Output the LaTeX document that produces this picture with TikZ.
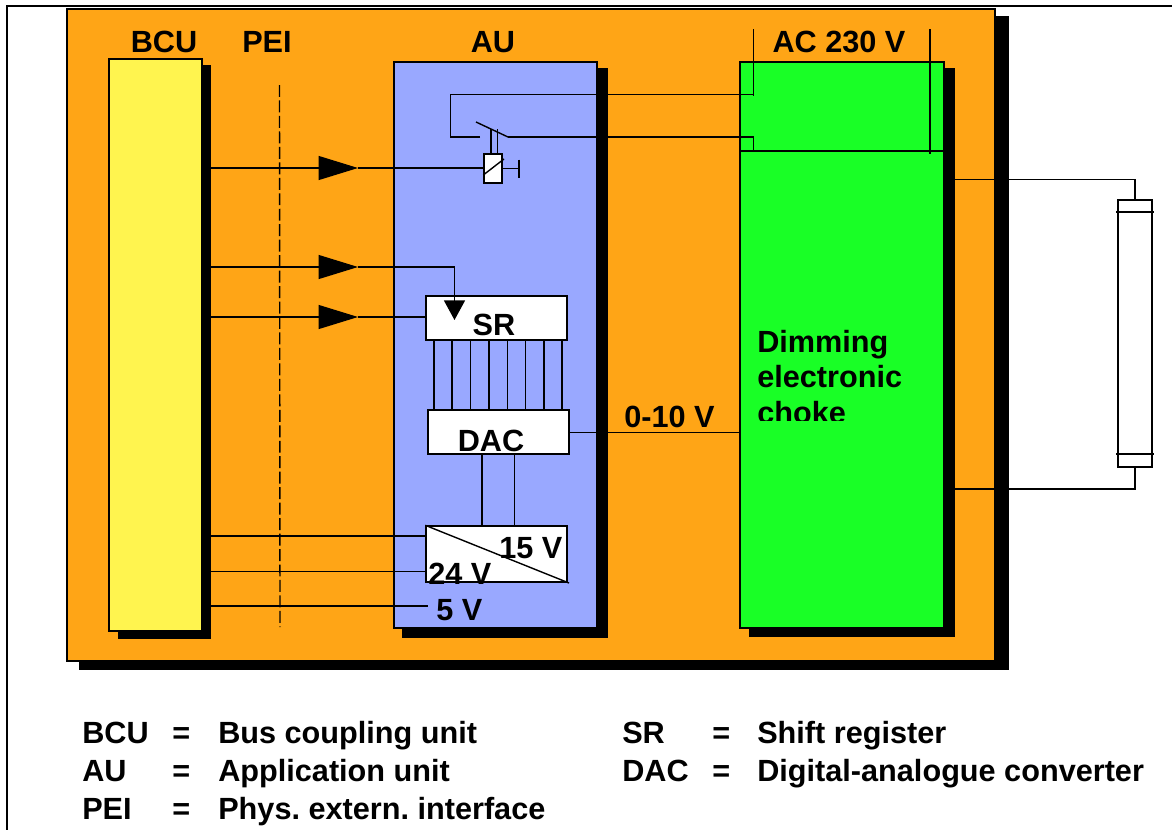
\documentclass[tikz,border=0pt]{standalone}
\usepackage{fontspec}
\setmainfont{Liberation Sans}
\usepackage{tikz}
\usetikzlibrary{arrows.meta,positioning,calc,fit}
\definecolor{baseorange}{HTML}{FFA516}
\definecolor{bcuyellow}{HTML}{FFF44F}
\definecolor{aublue}{HTML}{99A8FF}
\definecolor{chokegreen}{HTML}{19FF26}
\frenchspacing

\begin{document}
\begin{tikzpicture}[
    x=0.025cm, y=-0.025cm,
    panel/.style={rectangle, draw=black, line width=1pt, inner sep=0pt},
    whitebox/.style={panel, fill=white},
    wire/.style={draw=black, line width=1pt},
    cast/.style={fill=black},
    lbl/.style={font=\fontsize{21.8}{26}\selectfont\bfseries, inner sep=0pt},
    bigtip/.style={wire, -{Triangle[length=28pt,width=17pt]}},
    downtip/.style={wire, -{Triangle[length=14pt,width=15pt]}},
  ]
  \useasboundingbox (0,0) rectangle (1172,830);

  %% Page frame
  \coordinate (frametop) at (1172,6);
  \coordinate (framecorner) at (7,6);
  \coordinate (framefoot) at (7,830);
  \draw[line width=1.8pt] (frametop) -- (framecorner) -- (framefoot);

  %% Base plate
  \fill[cast] (79,16) rectangle (1009,670);
  \node[panel, fill=baseorange, fit={(67,9) (995,661)}] (base) {};

  %% Units
  \fill[cast] (118,65) rectangle (211,639);
  \node[panel, fill=bcuyellow, fit={(109,59) (202,631)}] (bcu) {};
  \fill[cast] (402,68) rectangle (608,638);
  \node[panel, fill=aublue, fit={(394,62) (597,628)}] (au) {};
  \fill[cast] (749,68) rectangle (955,637);
  \node[panel, fill=chokegreen, fit={(740,62) (944,628)}] (choke) {};

  %% Unit labels
  \node[lbl, anchor=base] (bculabel) at (164,52) {BCU};
  \node[lbl, anchor=base] (peilabel) at (267,52) {PEI};
  \node[lbl, anchor=base] (aulabel) at (493,52) {AU};
  \node[lbl, anchor=base] (aclabel) at (839,52) {AC 230 V};

  %% Interface line
  \coordinate (peitop) at (279.5,85);
  \coordinate (peifoot) at (280,627);
  \draw[line width=1pt, dash pattern=on 8.5pt off 2.5pt] (peitop) -- (peifoot);

  %% Inner boxes
  \node[whitebox, fit={(426,296) (567,340)}] (sr) {};
  \node[whitebox, fit={(428,410) (569,454)}] (dac) {};
  \node[whitebox, fit={(426,526) (567,582)}] (conv) {};
  \node[whitebox, fit={(484,154) (502,183)}] (coil) {};

  %% Relay
  \draw[wire] (coil.south west |- 0,175) -- (504,159);
  \coordinate (stopbar) at (519,168.5);
  \draw[wire] (coil.east |- stopbar) -- (stopbar);
  \draw[wire] ($(stopbar)+(0,-9)$) -- ($(stopbar)+(0,9)$);
  \foreach \stem in {491,497.5}{
    \draw[wire] (coil.north -| \stem,0) -- (\stem,129);
  }
  \coordinate (bladeend) at (476,122);
  \coordinate (bladepin) at (508,137);
  \draw[wire] (bladeend) -- (bladepin);
  \coordinate (contact) at (480,137);

  %% Mains feed
  \coordinate (acleft) at (753.5,29);
  \coordinate (acright) at (930,29);
  \coordinate (acbar) at (739,151);
  \draw[wire] (acleft) -- (753.5,96);
  \draw[wire] (acright) -- (930,154);
  \draw[wire] (acbar) -- (acbar -| choke.east);
  \draw[wire] (contact) -- (450.5,137) -- (450.5,94.5) -- (753.5,94.5);
  \draw[wire] (bladepin) -- (753.5,137) -- (753.5,151);

  %% Signals from the BCU
  \coordinate (tipa) at (358,168);
  \coordinate (tipb) at (358,267);
  \coordinate (tipc) at (358,317);
  \draw[bigtip] (bcu.east |- tipa) ++(8,0) -- (tipa);
  \draw[wire] (tipa) -- (coil.west |- tipa);
  \draw[bigtip] (bcu.east |- tipb) ++(8,0) -- (tipb);
  \coordinate (srdrop) at (454.5,320);
  \draw[downtip] (tipb) -| (srdrop);
  \draw[bigtip] (bcu.east |- tipc) ++(8,0) -- (tipc);
  \draw[wire] (tipc) -- (sr.west |- tipc);

  %% Supply lines
  \coordinate (supplya) at (211,536);
  \coordinate (supplyb) at (211,571.5);
  \coordinate (supplyc) at (211,606);
  \coordinate (fivev) at (428,606);
  \draw[wire] (supplya) -- (conv.west |- supplya);
  \draw[wire] (supplyb) -- (conv.west |- supplyb);
  \draw[wire] (supplyc) -- (fivev);

  %% Register to converter
  \foreach \bit in {434,452,470.5,489,507.5,525.5,544,562}{
    \draw[wire] (sr.south -| \bit,0) -- (dac.north -| \bit,0);
  }
  \foreach \rail in {482,514.5}{
    \draw[wire] (dac.south -| \rail,0) -- (conv.north -| \rail,0);
  }
  \draw[wire] (conv.north west) -- (569,583);

  %% Dimming signal
  \draw[wire] (dac.east |- 0,432.5) -- (choke.west |- 0,432.5);

  %% Lamp
  \node[whitebox, fit={(1118,200) (1152,467)}] (lamp) {};
  \draw[wire] (choke.east |- 0,179.5) -| (lamp.north);
  \draw[wire] (choke.east |- 0,489) -| (lamp.south);
  \draw[wire] (1116,212) -- (1154,212);
  \draw[wire] (1116,454) -- (1154,454);

  %% Box labels
  \node[lbl, anchor=base] (srlabel) at (494,335) {SR};
  \node[lbl, anchor=base] (daclabel) at (491,451) {DAC};
  \node[lbl, anchor=base west] (highv) at (499,558) {15 V};
  \node[lbl, anchor=base west] (lowv) at (428,584) {24 V};
  \node[lbl, anchor=base west] (fivelabel) at (436,620) {5 V};
  \node[lbl, anchor=base west] (dimv) at (624,427) {0-10 V};

  %% Choke label
  \node[lbl, anchor=base west] (dimming) at (757,352) {Dimming};
  \node[lbl, anchor=base west] (electronic) at (757,387) {electronic};
  \begin{scope}
    \clip (750,400) rectangle (920,420.5);
    \node[lbl, anchor=base west] (chokelabel) at (757,423) {choke};
  \end{scope}

  %% Legend
  \foreach \abbr/\sign/\full/\xa/\xb/\xc/\ya in {%
      BCU/=/Bus coupling unit/82/172/218/743,
      AU/=/Application unit/82/172/218/781,
      PEI/=/Phys. extern. interface/82/172/218/819,
      SR/=/Shift register/622/712/757/743,
      DAC/=/Digital-analogue converter/622/712/757/781}{
    \node[lbl, anchor=base west] (key\abbr) at (\xa,\ya) {\abbr};
    \node[lbl, anchor=base west] (eq\abbr) at (\xb,\ya) {\sign};
    \node[lbl, anchor=base west] (text\abbr) at (\xc,\ya) {\full};
  }
\end{tikzpicture}
\end{document}
